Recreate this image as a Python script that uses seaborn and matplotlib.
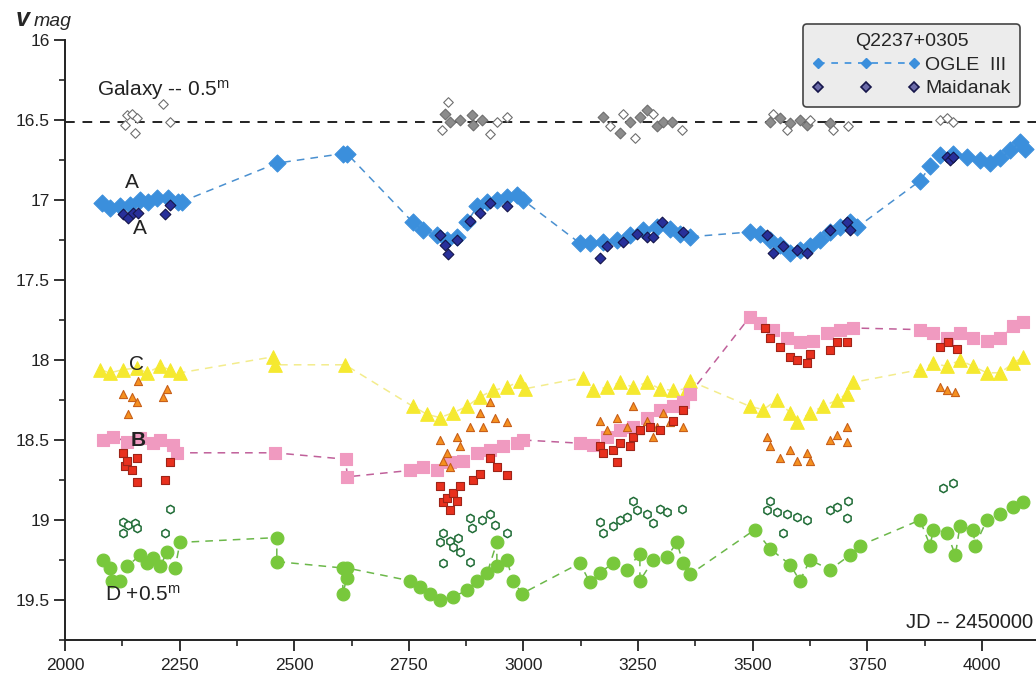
import pandas as pd
import seaborn as sns
import matplotlib.pyplot as plt
from matplotlib.lines import Line2D
from matplotlib.ticker import MultipleLocator, FormatStrFormatter

sns.set_style("ticks")
plt.rcParams['font.family'] = ['Liberation Sans', 'DejaVu Sans']
plt.rcParams['mathtext.default'] = 'regular'

# --- data (JD - 2450000, V magnitude) ---
galaxy_level = 16.51

galaxy_filled_x = [2829, 2840, 2862, 2888, 2890, 2910, 3174, 3211, 3233, 3254, 3270, 3291, 3305, 3324,
                   3538, 3560, 3582, 3603, 3619, 3669]
galaxy_filled_y = [16.46, 16.51, 16.50, 16.47, 16.53, 16.50, 16.48, 16.58, 16.51, 16.48, 16.44, 16.54, 16.51, 16.51,
                   16.51, 16.49, 16.52, 16.50, 16.53, 16.52]
galaxy_open_x = [2131, 2135, 2146, 2153, 2157, 2214, 2229, 2822, 2836, 2927, 2942, 2964, 3189, 3217, 3243,
                 3283, 3346, 3544, 3575, 3625, 3675, 3708, 3909, 3924, 3937]
galaxy_open_y = [16.53, 16.47, 16.46, 16.58, 16.49, 16.40, 16.51, 16.56, 16.39, 16.59, 16.51, 16.48, 16.54, 16.46, 16.61,
                 16.46, 16.56, 16.46, 16.56, 16.50, 16.56, 16.54, 16.50, 16.49, 16.51]

a_ogle_x = [2081, 2098, 2120, 2142, 2164, 2181, 2201, 2225, 2247, 2255, 2462, 2606, 2615,
            2759, 2781, 2812, 2833, 2855, 2877, 2899, 2921, 2942, 2964, 2986, 2999,
            3123, 3145, 3174, 3204, 3233, 3261, 3291, 3320, 3342, 3363,
            3494, 3516, 3538, 3560, 3582, 3603, 3625, 3647, 3669, 3691, 3712, 3728,
            3865, 3887, 3909, 3937, 3968, 3996, 4018, 4040, 4062, 4083, 4094]
a_ogle_y = [17.02, 17.05, 17.04, 17.03, 17.00, 17.01, 16.99, 16.99, 17.01, 17.01, 16.77, 16.71, 16.71,
            17.14, 17.19, 17.22, 17.25, 17.23, 17.14, 17.04, 17.01, 17.00, 16.98, 16.97, 17.00,
            17.27, 17.27, 17.26, 17.25, 17.22, 17.19, 17.17, 17.18, 17.21, 17.23,
            17.20, 17.21, 17.25, 17.28, 17.33, 17.31, 17.29, 17.25, 17.20, 17.17, 17.14, 17.17,
            16.88, 16.79, 16.72, 16.71, 16.73, 16.75, 16.77, 16.74, 16.69, 16.64, 16.68]
a_maid_x = [2127, 2137, 2148, 2159, 2218, 2229, 2818, 2829, 2835, 2855, 2883, 2905, 2927, 2964,
            3167, 3182, 3217, 3248, 3270, 3283, 3302, 3348,
            3531, 3544, 3566, 3597, 3619, 3669, 3706, 3712, 3924, 3931, 3937]
a_maid_y = [17.09, 17.11, 17.08, 17.08, 17.09, 17.03, 17.22, 17.28, 17.34, 17.25, 17.13, 17.08, 17.02, 17.04,
            17.36, 17.29, 17.26, 17.21, 17.23, 17.23, 17.14, 17.20,
            17.22, 17.33, 17.29, 17.31, 17.33, 17.19, 17.14, 17.19, 16.73, 16.75, 16.73]

c_ogle_x = [2076, 2098, 2127, 2157, 2179, 2207, 2229, 2251, 2454, 2458, 2611,
            2759, 2790, 2818, 2846, 2877, 2905, 2934, 2964, 2993, 3003,
            3130, 3152, 3182, 3211, 3239, 3270, 3298, 3326, 3357, 3363,
            3494, 3523, 3553, 3582, 3597, 3625, 3654, 3684, 3706, 3719,
            3865, 3894, 3924, 3952, 3981, 4011, 4040, 4068, 4090]
c_ogle_y = [18.06, 18.08, 18.06, 18.05, 18.08, 18.04, 18.06, 18.08, 17.98, 18.03, 18.03,
            18.29, 18.34, 18.36, 18.33, 18.29, 18.23, 18.19, 18.17, 18.13, 18.18,
            18.11, 18.19, 18.17, 18.14, 18.17, 18.14, 18.18, 18.19, 18.18, 18.13,
            18.29, 18.31, 18.25, 18.33, 18.39, 18.33, 18.29, 18.25, 18.21, 18.14,
            18.06, 18.02, 18.04, 18.00, 18.04, 18.08, 18.08, 18.02, 17.98]
c_maid_x = [2127, 2137, 2146, 2157, 2159, 2214, 2223,
            2818, 2825, 2833, 2840, 2855, 2862, 2883, 2905, 2912, 2927, 2938, 2964,
            3167, 3182, 3204, 3226, 3239, 3254, 3270, 3283, 3291, 3305, 3320, 3348,
            3531, 3538, 3560, 3582, 3597, 3619, 3625, 3669, 3684, 3706, 3706, 3909, 3924, 3942]
c_maid_y = [18.21, 18.34, 18.23, 18.26, 18.13, 18.23, 18.18,
            18.50, 18.63, 18.58, 18.67, 18.48, 18.54, 18.42, 18.33, 18.42, 18.26, 18.36, 18.39,
            18.38, 18.44, 18.36, 18.42, 18.29, 18.44, 18.38, 18.48, 18.42, 18.33, 18.39, 18.42,
            18.48, 18.54, 18.61, 18.56, 18.63, 18.58, 18.63, 18.50, 18.47, 18.42, 18.51, 18.17, 18.19, 18.20]

b_ogle_x = [2083, 2105, 2135, 2164, 2192, 2207, 2236, 2244, 2458, 2612, 2616,
            2753, 2781, 2812, 2840, 2868, 2899, 2927, 2955, 2986, 2999,
            3123, 3152, 3182, 3211, 3239, 3270, 3298, 3326, 3348, 3363,
            3494, 3516, 3544, 3575, 3603, 3632, 3662, 3691, 3719,
            3865, 3894, 3924, 3952, 3981, 4011, 4040, 4068, 4090]
b_ogle_y = [18.50, 18.48, 18.51, 18.49, 18.52, 18.50, 18.53, 18.58, 18.58, 18.62, 18.73,
            18.69, 18.67, 18.69, 18.64, 18.63, 18.58, 18.56, 18.54, 18.52, 18.50,
            18.52, 18.53, 18.48, 18.44, 18.42, 18.36, 18.31, 18.29, 18.26, 18.21,
            17.73, 17.77, 17.81, 17.86, 17.89, 17.88, 17.83, 17.81, 17.80,
            17.81, 17.83, 17.86, 17.83, 17.86, 17.88, 17.86, 17.79, 17.76]
b_maid_x = [2127, 2131, 2135, 2146, 2157, 2157, 2218, 2229,
            2818, 2825, 2833, 2840, 2846, 2855, 2862, 2890, 2905, 2927, 2942, 2964,
            3167, 3174, 3195, 3204, 3211, 3233, 3239, 3254, 3276, 3298, 3326, 3348,
            3527, 3538, 3560, 3582, 3597, 3619, 3625, 3669, 3684, 3706, 3909, 3926, 3946]
b_maid_y = [18.58, 18.66, 18.63, 18.69, 18.61, 18.76, 18.75, 18.64,
            18.79, 18.89, 18.86, 18.94, 18.83, 18.88, 18.79, 18.75, 18.71, 18.61, 18.67, 18.72,
            18.54, 18.58, 18.56, 18.64, 18.52, 18.54, 18.48, 18.44, 18.42, 18.44, 18.38, 18.31,
            17.80, 17.86, 17.92, 17.98, 18.00, 18.02, 17.96, 17.94, 17.89, 17.89, 17.92, 17.89, 17.93]

d_ogle_x = [2083, 2098, 2103, 2120, 2135, 2164, 2179, 2192, 2207, 2223, 2240, 2251, 2462, 2462,
            2606, 2606, 2615, 2615,
            2753, 2775, 2796, 2818, 2846, 2877, 2899, 2921, 2942, 2942, 2964, 2977, 2997,
            3123, 3145, 3167, 3195, 3226, 3254, 3254, 3283, 3313, 3335, 3348, 3363,
            3505, 3538, 3582, 3603, 3625, 3669, 3712, 3734,
            3865, 3887, 3894, 3924, 3942, 3952, 3981, 3985, 4011, 4040, 4068, 4090]
d_ogle_y = [19.25, 19.30, 19.38, 19.38, 19.29, 19.22, 19.27, 19.24, 19.29, 19.20, 19.30, 19.14, 19.11, 19.26,
            19.30, 19.46, 19.36, 19.30,
            19.38, 19.42, 19.46, 19.50, 19.48, 19.44, 19.38, 19.33, 19.14, 19.29, 19.25, 19.38, 19.46,
            19.27, 19.39, 19.33, 19.27, 19.31, 19.21, 19.38, 19.25, 19.23, 19.14, 19.27, 19.34,
            19.06, 19.18, 19.28, 19.38, 19.25, 19.31, 19.22, 19.16,
            19.00, 19.16, 19.06, 19.08, 19.22, 19.04, 19.06, 19.16, 19.00, 18.96, 18.92, 18.89]
d_maid_x = [2127, 2127, 2137, 2153, 2157, 2218, 2229,
            2818, 2825, 2825, 2840, 2846, 2857, 2862, 2883, 2883, 2888, 2910, 2927, 2938, 2964,
            3167, 3174, 3195, 3211, 3226, 3239, 3248, 3270, 3283, 3298, 3313, 3346,
            3531, 3538, 3553, 3566, 3575, 3597, 3619, 3669, 3684, 3706, 3708, 3915, 3937]
d_maid_y = [19.01, 19.08, 19.03, 19.02, 19.05, 19.08, 18.93,
            19.14, 19.08, 19.27, 19.13, 19.17, 19.11, 19.20, 18.99, 19.26, 19.05, 19.00, 18.96, 19.03, 19.08,
            19.01, 19.08, 19.04, 19.00, 18.98, 18.88, 18.94, 18.96, 19.02, 18.93, 18.95, 18.93,
            18.94, 18.88, 18.95, 19.08, 18.96, 18.98, 19.00, 18.94, 18.92, 18.99, 18.88, 18.80, 18.77]


def draw(ax, x, y, marker, s, face, edge, lw=0.8, line=None, z=3):
    df = pd.DataFrame({"jd": x, "mag": y})
    if line is not None:
        sns.lineplot(data=df, x="jd", y="mag", sort=False, estimator=None, color=line,
                     linestyle=(0, (5, 4)), linewidth=1.1, ax=ax, zorder=z - 1)
    sns.scatterplot(data=df, x="jd", y="mag", marker=marker, s=s, color=face,
                    edgecolor=edge, linewidth=lw, ax=ax, zorder=z)


fig = plt.figure(figsize=(10.36, 6.8), dpi=100)
ax = fig.add_axes([65 / 1036, 40 / 680, 971 / 1036, 600 / 680])

ax.axhline(galaxy_level, color="#222222", linestyle=(0, (5, 4)), linewidth=1.4, zorder=1)
draw(ax, galaxy_filled_x, galaxy_filled_y, "D", 30, "#8c8c8c", "#6e6e6e", z=3)
draw(ax, galaxy_open_x, galaxy_open_y, "D", 24, "white", "#6e6e6e", z=4)

draw(ax, a_ogle_x, a_ogle_y, "D", 75, "#3b8fdc", "#3b8fdc", line="#4a90d0", z=3)
draw(ax, a_maid_x, a_maid_y, "D", 30, "#28309a", "#15154a", z=5)

draw(ax, c_ogle_x, c_ogle_y, "^", 95, "#f5e930", "#f5e930", line="#f3ec8c", z=3)
draw(ax, c_maid_x, c_maid_y, "^", 34, "#f5901f", "#c8601a", z=5)

draw(ax, b_ogle_x, b_ogle_y, "s", 80, "#f09ac0", "#f09ac0", line="#c0609a", z=3)
draw(ax, b_maid_x, b_maid_y, "s", 36, "#e8301e", "#9e2418", z=5)

draw(ax, d_ogle_x, d_ogle_y, "o", 85, "#78c83c", "#78c83c", line="#6cb84a", z=3)
draw(ax, d_maid_x, d_maid_y, "h", 36, "white", "#1e6b35", lw=1.1, z=5)

ax.set_xlim(2000, 4118)
ax.set_ylim(19.75, 16)
ax.xaxis.set_major_locator(MultipleLocator(250))
ax.xaxis.set_minor_locator(MultipleLocator(125))
ax.yaxis.set_major_locator(MultipleLocator(0.5))
ax.yaxis.set_minor_locator(MultipleLocator(0.25))
ax.yaxis.set_major_formatter(FormatStrFormatter('%g'))
ax.tick_params(which="major", length=8, width=1.3, labelsize=12.5, colors="#222222")
ax.tick_params(axis="y", which="major", pad=3)
ax.tick_params(axis="x", which="major", pad=5)
ax.tick_params(which="minor", length=4, width=1.2)
ax.set_xlabel("")
ax.set_ylabel("")
sns.despine(ax=ax)
ax.spines["left"].set_bounds(16, 19.75)
for sp in ("left", "bottom"):
    ax.spines[sp].set_linewidth(1.4)
    ax.spines[sp].set_color("#222222")

ax.text(2070, 16.31, "Galaxy -- 0.5$^m$", fontsize=15, va="center", color="#222222")
ax.text(2146, 16.89, "A", fontsize=15, ha="center", va="center", color="#222222")
ax.text(2164, 17.18, "A", fontsize=15, ha="center", va="center", color="#222222")
ax.text(2157, 18.03, "C", fontsize=15, ha="center", va="center", color="#222222")
ax.text(2159, 18.5, "B", fontsize=15, ha="center", va="center", fontweight="bold", color="#222222")
ax.text(2087, 19.47, "D +0.5$^m$", fontsize=15, va="center", color="#222222")
ax.text(4112, 19.64, "JD -- 2450000", fontsize=14.5, ha="right", va="center", color="#222222")
fig.text(16 / 1036, 1 - 26 / 680, "v", fontsize=18, fontweight="bold", style="italic", va="baseline")
fig.text(34 / 1036, 1 - 26 / 680, "mag", fontsize=14, style="italic", va="baseline")

handles = [
    Line2D([], [], color="#3b8fdc", linestyle=(0, (4, 4)), linewidth=1.2, marker="D", markersize=5),
    Line2D([], [], color="none", marker="D", markersize=5, markerfacecolor="#6a6aa8",
           markeredgecolor="#15154a", markeredgewidth=1.2),
]
leg = ax.legend(handles, ["OGLE  III", "Maidanak"], title="Q2237+0305", loc="upper right",
                bbox_to_anchor=(1030 / 1036, 1 - 14 / 680), bbox_transform=fig.transFigure,
                numpoints=3, handlelength=5.5, fontsize=14, title_fontsize=14, frameon=True,
                fancybox=True, facecolor="#ececec", edgecolor="#444444", framealpha=1,
                borderpad=0.5, labelspacing=0.3, handletextpad=0.3)
leg.get_frame().set_linewidth(1.2)

fig.savefig("out.png", dpi=100, facecolor="white")
